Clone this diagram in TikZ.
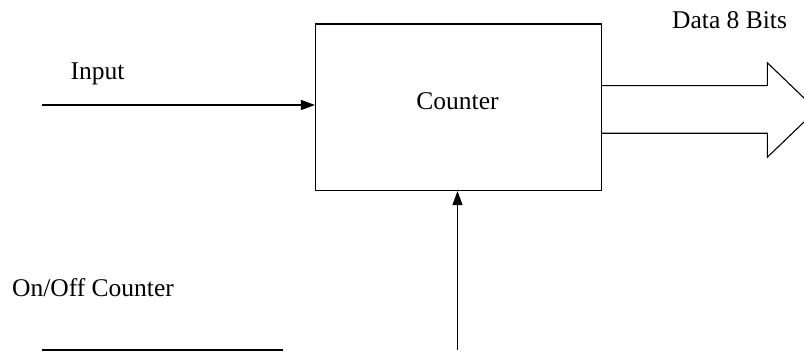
\documentclass[tikz,border=0pt]{standalone}
\usepackage{fontspec}
\setmainfont{Liberation Serif}
\usetikzlibrary{arrows.meta}
\begin{document}
\begin{tikzpicture}[x=1pt,y=-1pt,
  wire/.style={line width=1.1pt},
  sig/.style={wire,-{Triangle[length=14pt,width=10pt]}},
  lbl/.style={font=\fontsize{25.5}{28}\selectfont,inner sep=0pt,anchor=base west},
  block/.style={draw,line width=1.1pt,minimum width=286pt,minimum height=166.5pt,inner sep=0pt}]
  \useasboundingbox (0,0) rectangle (804,355);
  \clip (0,0) rectangle (804,355);

  % counter block
  \node[block] (counter) at (458.5,107.25) {};
  \node[font=\fontsize{25.5}{28}\selectfont,inner sep=0pt,anchor=base] (ctext) at (457.5,110) {Counter};

  % clock input
  \coordinate (inA) at (42,105);
  \node[lbl] (inlbl) at (70.5,80) {Input};
  \draw[sig] (inA) -- (inA -| counter.west);

  % enable input
  \coordinate (enA) at (457.5,350);
  \coordinate (onA) at (42,350);
  \coordinate (onB) at (283,350);
  \node[lbl] (onlbl) at (12,297) {On/Off Counter};
  \draw[wire] (onA) -- (onB);
  \draw[sig] (enA) -- (enA |- counter.south);

  % 8-bit data output bus
  \node[lbl] (datalbl) at (672,29) {Data 8 Bits};
  \coordinate (busT) at (counter.east |- 0,85.7);
  \coordinate (busB) at (counter.east |- 0,133.3);
  \draw[wire,line join=miter] (busT) -- (767.3,85.7) -- (767.3,62.7) -- (816.5,110)
        -- (767.3,157.3) -- (767.3,133.3) -- (busB);
\end{tikzpicture}
\end{document}
